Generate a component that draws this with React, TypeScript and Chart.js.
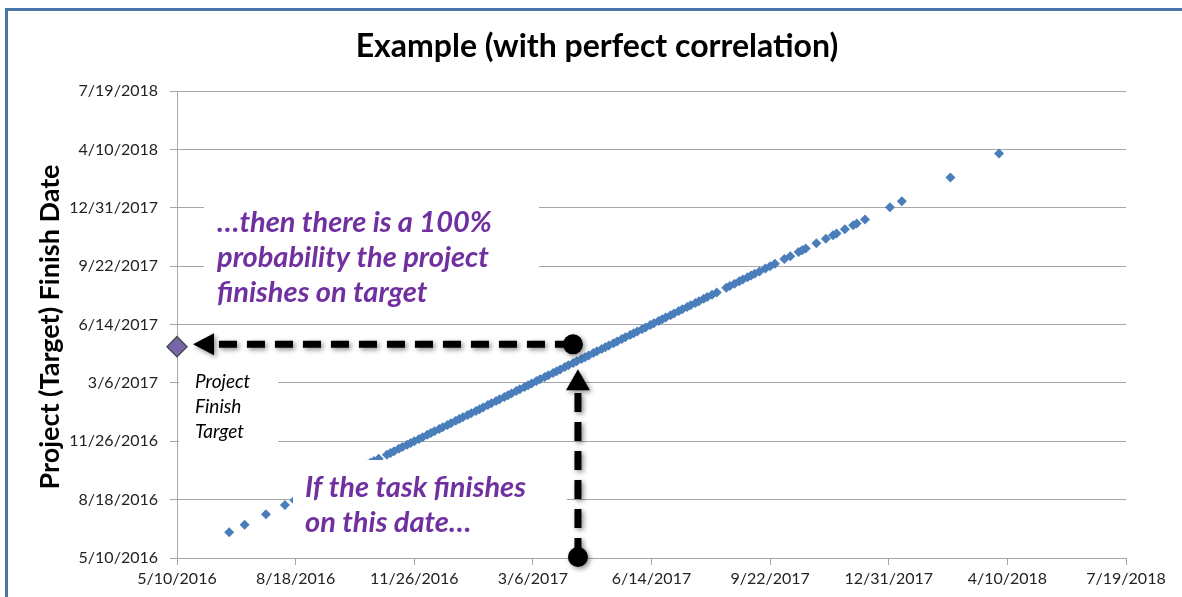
import React, { useEffect, useRef } from "react";
import { Chart, registerables } from "chart.js";

Chart.register(...registerables);

// ---- Data (dates stored as Excel serial day numbers) ----
const chartTitle = "Example (with perfect correlation)";
const yAxisTitle = "Project (Target) Finish Date";
const axisMin = 42500; // 5/10/2016
const axisMax = 43300; // 7/19/2018
const axisStep = 100;
const tickLabels = [
  "5/10/2016", "8/18/2016", "11/26/2016", "3/6/2017", "6/14/2017",
  "9/22/2017", "12/31/2017", "4/10/2018", "7/19/2018",
];

// Task finish date (x)
const taskFinish = [
  42544, 42557, 42575, 42591, 42599, 42604, 42608, 42613, 42617, 42622,
  42626, 42631, 42635, 42639, 42644, 42648, 42652, 42656, 42660, 42663,
  42666, 42670, 42677, 42680, 42683, 42687, 42690, 42694, 42697, 42700,
  42704, 42707, 42711, 42714, 42717, 42721, 42724, 42728, 42731, 42735,
  42738, 42741, 42745, 42748, 42752, 42755, 42758, 42762, 42765, 42769,
  42772, 42776, 42779, 42782, 42786, 42789, 42793, 42796, 42799, 42803,
  42806, 42810, 42813, 42817, 42820, 42823, 42827, 42830, 42834, 42837,
  42841, 42844, 42847, 42851, 42854, 42858, 42861, 42864, 42868, 42871,
  42875, 42878, 42882, 42885, 42888, 42892, 42895, 42899, 42902, 42906,
  42909, 42912, 42916, 42919, 42923, 42926, 42930, 42933, 42937, 42940,
  42944, 42947, 42951, 42955, 42963, 42966, 42970, 42974, 42977, 42981,
  42984, 42987, 42991, 42996, 43000, 43004, 43012, 43017, 43024, 43027,
  43030, 43039, 43047, 43053, 43056, 43063, 43070, 43073, 43080, 43101,
  43111, 43152, 43193,
];

// Project (target) finish date (y) — perfect correlation with the task date
const projectFinish = [
  42544, 42557, 42575, 42591, 42599, 42604, 42608, 42613, 42617, 42622,
  42626, 42631, 42635, 42639, 42644, 42648, 42652, 42656, 42660, 42663,
  42666, 42670, 42677, 42680, 42683, 42687, 42690, 42694, 42697, 42700,
  42704, 42707, 42711, 42714, 42717, 42721, 42724, 42728, 42731, 42735,
  42738, 42741, 42745, 42748, 42752, 42755, 42758, 42762, 42765, 42769,
  42772, 42776, 42779, 42782, 42786, 42789, 42793, 42796, 42799, 42803,
  42806, 42810, 42813, 42817, 42820, 42823, 42827, 42830, 42834, 42837,
  42841, 42844, 42847, 42851, 42854, 42858, 42861, 42864, 42868, 42871,
  42875, 42878, 42882, 42885, 42888, 42892, 42895, 42899, 42902, 42906,
  42909, 42912, 42916, 42919, 42923, 42926, 42930, 42933, 42937, 42940,
  42944, 42947, 42951, 42955, 42963, 42966, 42970, 42974, 42977, 42981,
  42984, 42987, 42991, 42996, 43000, 43004, 43012, 43017, 43024, 43027,
  43030, 43039, 43047, 43053, 43056, 43063, 43070, 43073, 43080, 43101,
  43111, 43152, 43193,
];

// Project finish target marker
const targetX = [42500];
const targetY = [42862];

// Annotation dates
const chosenTaskDate = 42838;     // vertical arrow
const chosenProjectDate = 42866;  // horizontal arrow

const annotTopLines = ["…then there is a 100%", "probability the project", "finishes on target"];
const annotBottomLines = ["If the task finishes", "on this date…"];
const annotTargetLines = ["Project", "Finish", "Target"];

const FONT = "Lato, 'Open Sans', sans-serif";
const PURPLE = "#7030a0";
const GRID = "#a6a6a6";

function drawArrow(
  ctx: CanvasRenderingContext2D,
  sx: number, sy: number, tx: number, ty: number,
  dash: number[], lw: number, headLen: number, headHalf: number, r: number
) {
  const dx = tx - sx, dy = ty - sy;
  const len = Math.hypot(dx, dy);
  const ux = dx / len, uy = dy / len;
  const bx = tx - ux * headLen, by = ty - uy * headLen;
  ctx.save();
  ctx.shadowColor = "rgba(0,0,0,0.45)";
  ctx.shadowBlur = 5;
  ctx.shadowOffsetX = 2;
  ctx.shadowOffsetY = 2;
  ctx.strokeStyle = "#000";
  ctx.fillStyle = "#000";
  ctx.lineWidth = lw;
  ctx.lineCap = "butt";
  ctx.setLineDash(dash);
  ctx.beginPath();
  ctx.moveTo(sx, sy);
  ctx.lineTo(bx + ux * 2, by + uy * 2);
  ctx.stroke();
  ctx.setLineDash([]);
  ctx.beginPath();
  ctx.moveTo(tx, ty);
  ctx.lineTo(bx - uy * headHalf, by + ux * headHalf);
  ctx.lineTo(bx + uy * headHalf, by - ux * headHalf);
  ctx.closePath();
  ctx.fill();
  ctx.beginPath();
  ctx.arc(sx, sy, r, 0, Math.PI * 2);
  ctx.fill();
  ctx.restore();
}

const overlayPlugin = {
  id: "overlay",
  afterDatasetsDraw(chart: any) {
    const ctx: CanvasRenderingContext2D = chart.ctx;
    const xs = chart.scales.x;
    const ys = chart.scales.y;
    ctx.save();

    // white text boxes
    ctx.fillStyle = "#ffffff";
    ctx.fillRect(204, 194, 335, 126);
    ctx.fillRect(179, 360, 99, 88);
    ctx.fillRect(293, 460, 274, 90);

    // purple annotations
    ctx.fillStyle = PURPLE;
    ctx.font = `italic bold 29px ${FONT}`;
    ctx.textAlign = "left";
    ctx.textBaseline = "middle";
    annotTopLines.forEach((t, i) => ctx.fillText(t, 217, 223 + i * 35));
    annotBottomLines.forEach((t, i) => ctx.fillText(t, 305, 488 + i * 35));

    // target label
    ctx.fillStyle = "#000";
    ctx.font = `italic 19px ${FONT}`;
    annotTargetLines.forEach((t, i) => ctx.fillText(t, 195, 382 + i * 25));

    // arrows
    const vx = xs.getPixelForValue(chosenTaskDate);
    const hy = ys.getPixelForValue(chosenProjectDate);
    const tgtX = xs.getPixelForValue(targetX[0]);
    drawArrow(ctx, vx, ys.bottom - 1, vx, hy + 25, [19, 10], 7, 21, 12, 10);
    drawArrow(ctx, vx - 5, hy, tgtX + 16, hy, [18, 10], 7, 21, 11, 10);

    ctx.restore();
  },
  afterDraw(chart: any) {
    const ctx: CanvasRenderingContext2D = chart.ctx;
    ctx.save();
    ctx.fillStyle = "#000";
    ctx.textAlign = "center";
    ctx.textBaseline = "middle";
    ctx.font = `bold 32px ${FONT}`;
    ctx.fillText(chartTitle, 597, 47);
    ctx.translate(50, 327);
    ctx.rotate(-Math.PI / 2);
    ctx.font = `bold 27px ${FONT}`;
    ctx.fillText(yAxisTitle, 0, 0);
    ctx.restore();
  },
};

export default function App() {
  const ref = useRef<HTMLCanvasElement>(null);
  useEffect(() => {
    const canvas = ref.current!;
    const tickFont = { family: FONT, size: 16 };
    const chart = new Chart(canvas, {
      type: "scatter",
      data: {
        datasets: [
          {
            label: "Tasks",
            data: taskFinish.map((x, i) => ({ x, y: projectFinish[i] })),
            pointStyle: "rectRot",
            pointRadius: 5,
            pointBorderWidth: 0,
            backgroundColor: "#4a7ebb",
            borderColor: "#4a7ebb",
            showLine: false,
          },
          {
            label: "Target",
            data: targetX.map((x, i) => ({ x, y: targetY[i] })),
            pointStyle: "rectRot",
            pointRadius: 10,
            pointBorderWidth: 1.5,
            backgroundColor: "#7767a8",
            borderColor: "#4d4d55",
            showLine: false,
            clip: false,
          } as any,
        ],
      },
      options: {
        animation: false,
        responsive: false,
        events: [],
        layout: { padding: { top: 91, right: 56, left: 0, bottom: 0 } },
        plugins: {
          legend: { display: false },
          title: { display: false },
          tooltip: { enabled: false },
        },
        scales: {
          x: {
            type: "linear",
            min: axisMin,
            max: axisMax,
            ticks: {
              stepSize: axisStep,
              autoSkip: false,
              maxRotation: 0,
              color: "#222",
              font: tickFont,
              padding: 4,
              callback: (_v: any, i: number) => tickLabels[i],
            },
            grid: { drawOnChartArea: false, color: GRID, tickLength: 7 },
            border: { color: GRID },
            afterFit: (s: any) => { s.height = 39; },
          },
          y: {
            type: "linear",
            min: axisMin,
            max: axisMax,
            ticks: {
              stepSize: axisStep,
              autoSkip: false,
              color: "#222",
              font: tickFont,
              padding: 12,
              callback: (_v: any, i: number) => tickLabels[i],
            },
            grid: { color: GRID, tickLength: 7 },
            border: { color: GRID },
            afterFit: (s: any) => { s.width = 177; },
          },
        },
      },
      plugins: [overlayPlugin],
    });
    return () => chart.destroy();
  }, []);

  return (
    <div
      style={{
        position: "fixed", left: 0, top: 0, width: 1182, height: 597,
        overflow: "hidden", background: "#fff",
      }}
    >
      <div
        style={{
          position: "absolute", left: 5, top: 8, width: 1400, height: 800,
          borderTop: "3px solid #4a75aa", borderLeft: "3px solid #4a75aa",
        }}
      />
      <canvas
        ref={ref}
        width={1182}
        height={597}
        style={{ position: "absolute", left: 0, top: 0 }}
      />
    </div>
  );
}
